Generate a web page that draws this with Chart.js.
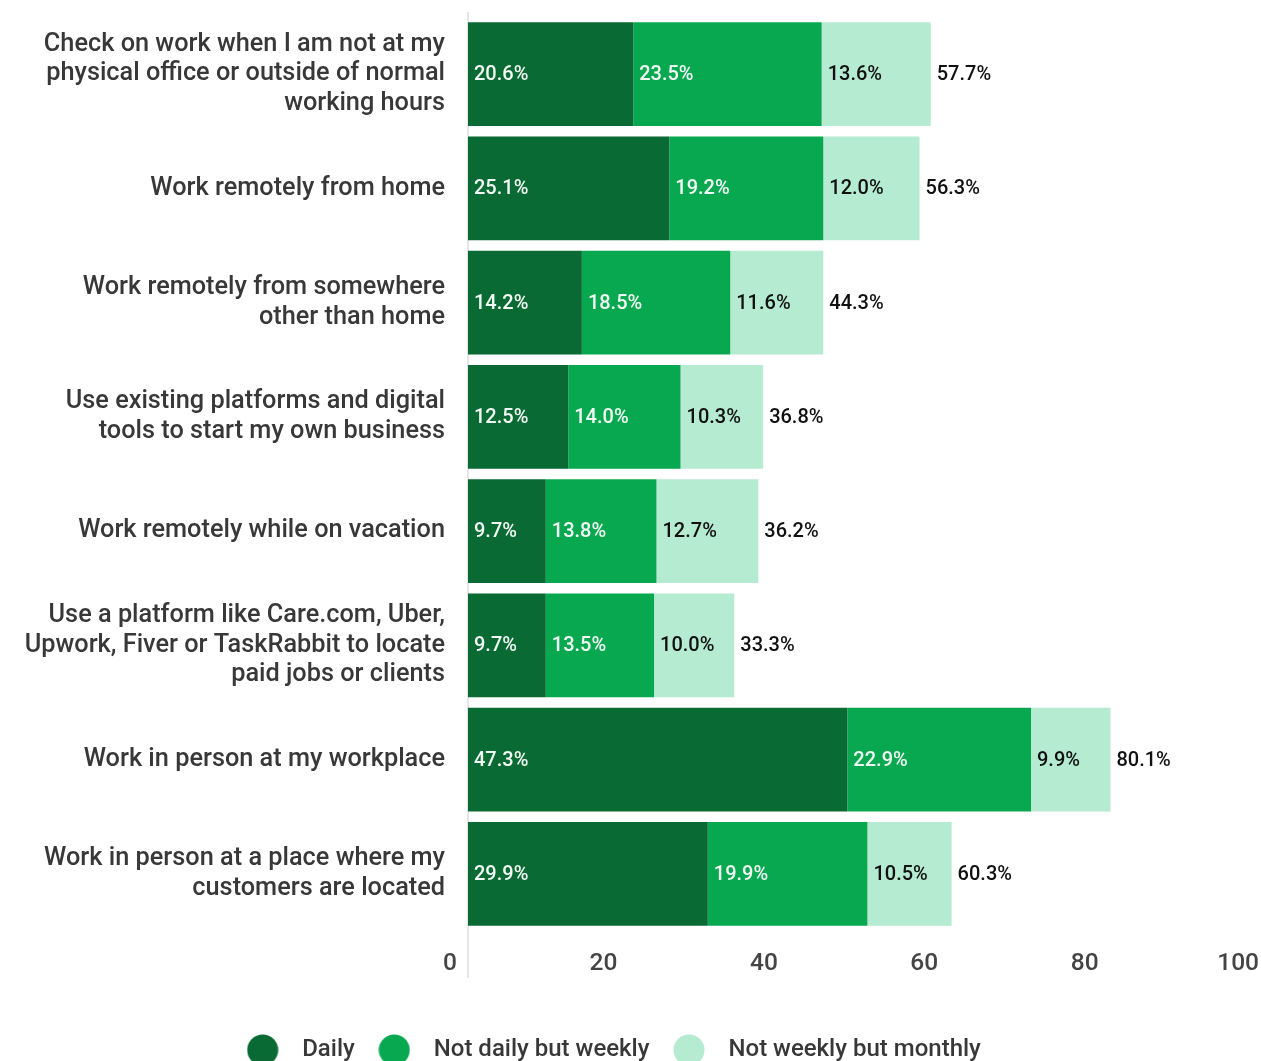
<!DOCTYPE html>
<html>
<head>
<meta charset="utf-8">
<script src="https://cdn.jsdelivr.net/npm/chart.js@4/dist/chart.umd.min.js"></script>
<style>
  html, body { margin: 0; padding: 0; background: #fff; overflow: hidden; }
  #wrap { width: 1270px; height: 1072px; }
</style>
</head>
<body>
<div id="wrap"><canvas id="myChart"></canvas></div>
<script>
const categories = [
    ['Check on work when I am not at my', 'physical office or outside of normal', 'working hours'],
    'Work remotely from home',
    ['Work remotely from somewhere', 'other than home'],
    ['Use existing platforms and digital', 'tools to start my own business'],
    'Work remotely while on vacation',
    ['Use a platform like Care.com, Uber,', 'Upwork, Fiver or TaskRabbit to locate', 'paid jobs or clients'],
    'Work in person at my workplace',
    ['Work in person at a place where my', 'customers are located']
];
const seriesNames = ['Daily', 'Not daily but weekly', 'Not weekly but monthly'];
const daily = [20.6, 25.1, 14.2, 12.5, 9.7, 9.7, 47.3, 29.9];
const weekly = [23.5, 19.2, 18.5, 14.0, 13.8, 13.5, 22.9, 19.9];
const monthly = [13.6, 12.0, 11.6, 10.3, 12.7, 10.0, 9.9, 10.5];
const totals = [57.7, 56.3, 44.3, 36.8, 36.2, 33.3, 80.1, 60.3];
const xTicks = [0, 20, 40, 60, 80, 100];

const colors = ['#0a6a33', '#08a851', '#b5ebd1'];
const labelColors = ['#f2faf4', '#f2faf4', '#111111'];
const FONT = 'Roboto';

let myChart;

// round swatch used as the legend marker
function dot(color) {
    const c = document.createElement('canvas');
    c.width = 32;
    c.height = 32;
    const g = c.getContext('2d');
    g.fillStyle = color;
    g.beginPath();
    g.arc(16, 16, 15.5, 0, Math.PI * 2);
    g.fill();
    return c;
}

// value text inside each segment plus the total after the bar
const barLabels = {
    id: 'barLabels',
    afterLayout(chart) {
        // legend sits a bit left of the canvas centre
        chart.legend.left -= 27;
        chart.legend.right -= 27;
    },
    beforeDatasetsDraw(chart) {
        // left axis rule, a little longer than the plot area
        const ctx = chart.ctx;
        const a = chart.chartArea;
        ctx.save();
        ctx.strokeStyle = '#dddddd';
        ctx.lineWidth = 1.5;
        ctx.beginPath();
        ctx.moveTo(a.left, a.top - 5);
        ctx.lineTo(a.left, a.bottom + 47);
        ctx.stroke();
        ctx.restore();
    },
    afterDatasetsDraw(chart) {
        const ctx = chart.ctx;
        ctx.save();
        ctx.font = '500 20px ' + FONT;
        ctx.textBaseline = 'middle';
        ctx.textAlign = 'left';
        chart.data.datasets.forEach((ds, di) => {
            const meta = chart.getDatasetMeta(di);
            meta.data.forEach((bar, i) => {
                ctx.fillStyle = labelColors[di];
                ctx.fillText(ds.data[i].toFixed(1) + '%', bar.base + 6, bar.y + 1);
            });
        });
        const last = chart.getDatasetMeta(chart.data.datasets.length - 1);
        last.data.forEach((bar, i) => {
            ctx.fillStyle = '#111111';
            ctx.fillText(totals[i].toFixed(1) + '%', bar.x + 6, bar.y + 1);
        });
        ctx.restore();
    }
};

function InitChart() {
    let ctx = document.getElementById('myChart');
    if (myChart) {
        myChart.destroy();
    }
    return ctx;
}

function ChartStacked() {
    const ctx = InitChart();
    const datasets = [daily, weekly, monthly].map((values, i) => ({
        label: seriesNames[i],
        data: values,
        backgroundColor: colors[i],
        borderWidth: 0,
        barPercentage: 0.91,
        categoryPercentage: 1
    }));
    myChart = new Chart(ctx, {
        type: 'bar',
        data: { labels: categories, datasets: datasets },
        plugins: [barLabels],
        options: {
            indexAxis: 'y',
            responsive: true,
            maintainAspectRatio: false,
            animation: false,
            layout: { padding: { top: 17, right: 0, bottom: 0, left: 0 } },
            scales: {
                x: {
                    stacked: true,
                    min: 0,
                    max: 100,
                    afterBuildTicks(scale) {
                        scale.ticks = xTicks.map(v => ({ value: v }));
                    },
                    afterFit(scale) {
                        scale.height = 95;
                        scale.paddingLeft = 0;
                        scale.paddingRight = 0;
                    },
                    grid: { display: false, drawTicks: false },
                    border: { display: false },
                    ticks: {
                        align: 'end',
                        labelOffset: -11,
                        padding: 18,
                        color: '#444444',
                        font: { family: FONT, size: 24.5, weight: '500' }
                    }
                },
                y: {
                    stacked: true,
                    afterFit(scale) {
                        scale.width = 468;
                        scale.paddingTop = 0;
                        scale.paddingBottom = 0;
                    },
                    grid: { display: false, drawTicks: false },
                    border: { display: false },
                    ticks: {
                        padding: 23,
                        color: '#383838',
                        font: { family: FONT, size: 25.3, weight: '500', lineHeight: 1.17 }
                    }
                }
            },
            plugins: {
                tooltip: { enabled: false },
                legend: {
                    position: 'bottom',
                    labels: {
                        usePointStyle: true,
                        pointStyleWidth: 55,
                        boxHeight: 22,
                        padding: 12,
                        color: '#383838',
                        font: { family: FONT, size: 24, weight: '500' },
                        generateLabels(chart) {
                            const items = Chart.defaults.plugins.legend.labels.generateLabels(chart);
                            items.forEach((it, i) => { it.pointStyle = dot(colors[i]); });
                            return items;
                        }
                    }
                }
            }
        }
    });
}

ChartStacked();
</script>
</body>
</html>
